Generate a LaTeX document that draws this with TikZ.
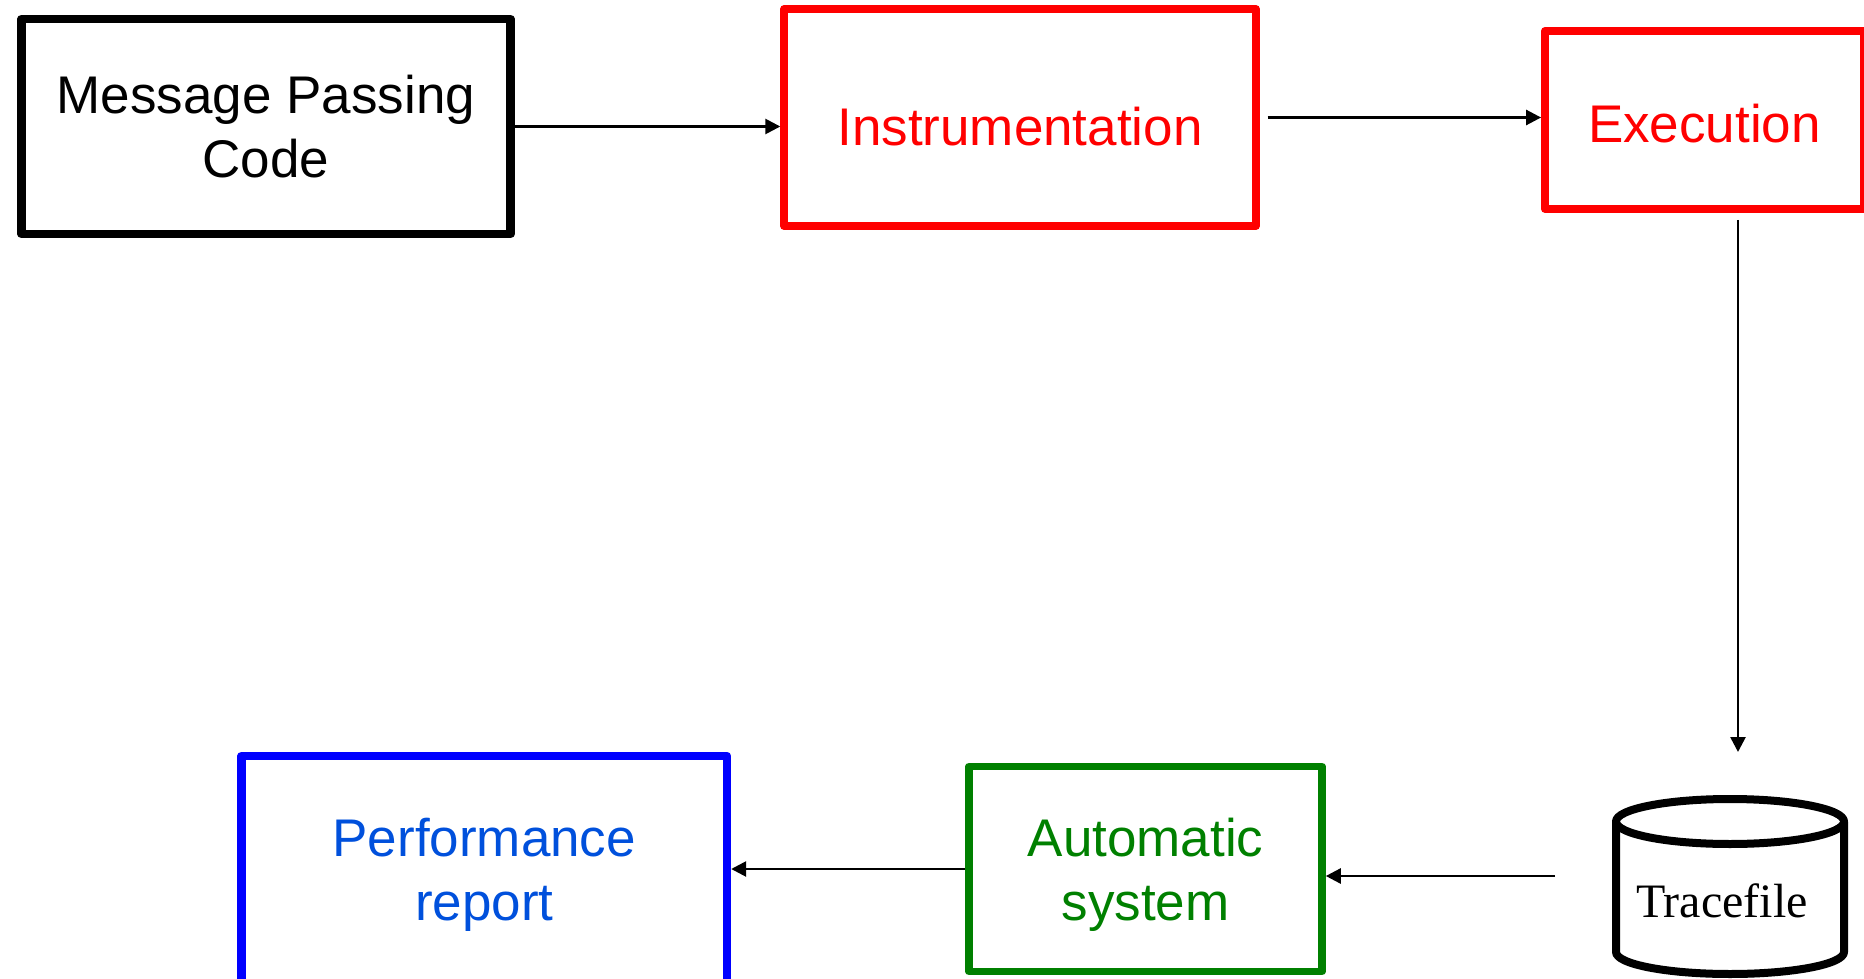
\documentclass[tikz,border=0pt]{standalone}
\usepackage{fontspec}
\setmainfont{Liberation Sans}
\newfontfamily\serifface{Liberation Serif}
\usetikzlibrary{arrows.meta}
\definecolor{boxred}{RGB}{255,0,0}
\definecolor{boxgreen}{RGB}{0,128,0}
\definecolor{boxblue}{RGB}{0,0,255}
\definecolor{textblue}{RGB}{0,80,220}
\begin{document}
\begin{tikzpicture}[x=0.5pt,y=-0.5pt,
  box/.style={draw, rectangle, align=center, inner sep=0pt, line join=round,
    font=\fontsize{26.5}{32}\selectfont},
  conn/.style={line width=1.3pt, -{Triangle[length=7.5pt,width=7.5pt]}},
  drum/.style={line width=4pt, line join=round}]
\useasboundingbox (0,0) rectangle (1864,979);
\clip (0,0) rectangle (1864,979);

% process boxes
\node[box, line width=4.2pt, minimum width=244.5pt, minimum height=107.5pt]
  (msg) at (266,126.5) {Message Passing\\Code};
\node[box, draw=boxred, text=boxred, line width=3.9pt, minimum width=235.8pt,
  minimum height=108.5pt, text height=28pt, text depth=0pt]
  (instr) at (1020,117.5) {Instrumentation};
\node[box, draw=boxred, text=boxred, line width=3.9pt, minimum width=159.5pt,
  minimum height=89pt, text height=22.5pt, text depth=0pt]
  (exec) at (1704.5,120) {Execution};
\node[box, draw=boxgreen, text=boxgreen, line width=3.8pt, minimum width=176.5pt,
  minimum height=102.5pt, text depth=0pt] (auto) at (1145.5,869) {Automatic\\system};
\node[box, draw=boxblue, text=textblue, line width=4.2pt, minimum width=242.75pt,
  minimum height=113.5pt, text depth=0pt] (perf) at (484.25,869.5) {Performance\\report};

% trace file drum
\draw[drum] (1616,821.5) -- (1616,952) arc[start angle=180, end angle=360,
  x radius=57pt, y radius=11pt] -- (1844,821.5);
\draw[drum] (1730,821.5) ellipse[x radius=57pt, y radius=11.25pt];
\node[font=\serifface\fontsize{24}{29}\selectfont, inner sep=0pt]
  (trace) at (1722,901) {Tracefile};

% free ends of the connectors near the drum
\coordinate (tracein) at (1738,752);
\coordinate (traceout) at (1555,876);

% connectors
\draw[conn] (msg.east) -- (msg.east -| instr.west);
\draw[conn] ([xshift=4pt]instr.east) -- (instr.east -| exec.west);
\draw[conn] ([xshift=16.75pt,yshift=-3.5pt]exec.south) -- (tracein);
\draw[conn] (traceout) -- (traceout -| auto.east);
\draw[conn] (auto.west) -- (auto.west -| perf.east);
\end{tikzpicture}
\end{document}
